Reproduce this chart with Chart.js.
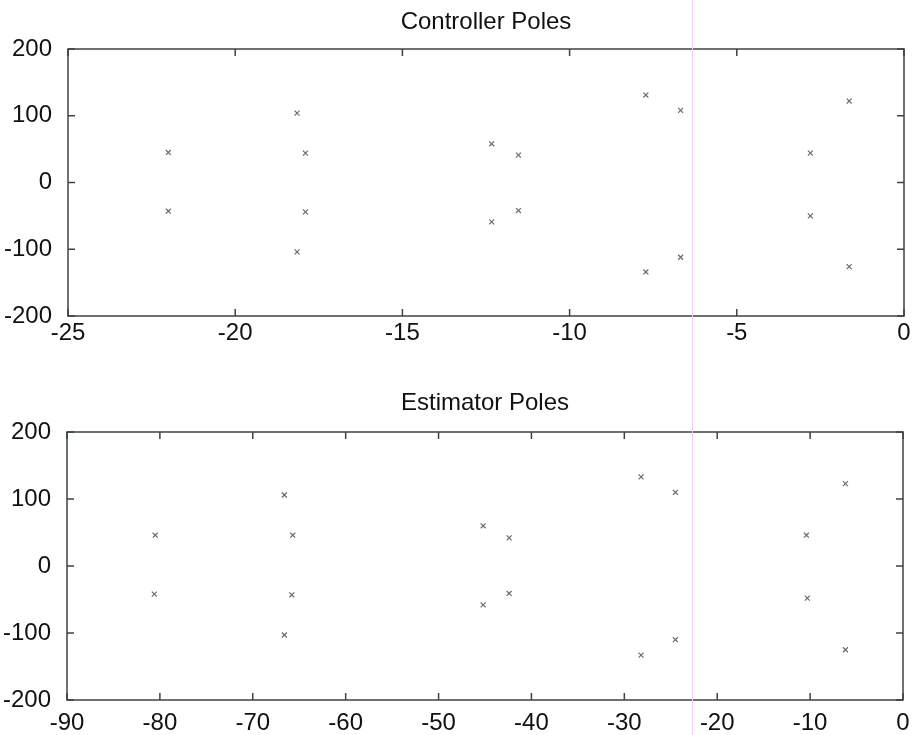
<!DOCTYPE html>
<html lang="en">
<head>
<meta charset="UTF-8">
<title>Controller and Estimator Poles</title>
<script src="https://cdn.jsdelivr.net/npm/chart.js"></script>
<style>
    body { margin: 0; background: #fff; }
    #wrap { position: relative; width: 913px; height: 735px; overflow: hidden; }
    #topBox { position: absolute; left: 0; top: 0; width: 913px; height: 360px; }
    #botBox { position: absolute; left: 0; top: 360px; width: 913px; height: 375px; }
    /* faint scanner line seen in the reference */
    #scanLine { position: absolute; left: 692px; top: 0; width: 1px; height: 735px; background: #f6cdf2; }
</style>
</head>
<body>
<div id="wrap">
    <div id="topBox"><canvas id="ctrl"></canvas></div>
    <div id="botBox"><canvas id="est"></canvas></div>
    <div id="scanLine"></div>
</div>
<script>
    // controller poles (real, imaginary)
    const ctrlRe = [-22.0, -22.0, -18.15, -17.9, -17.9, -18.15, -12.33, -11.53, -11.53, -12.33, -7.72, -6.68, -6.68, -7.72, -1.64, -2.8, -2.8, -1.64];
    const ctrlIm = [45, -43, 104, 44, -44, -104, 58, 41, -42, -59, 131, 108, -112, -134, 122, 44, -50, -126];

    // estimator poles (real, imaginary)
    const estRe = [-80.5, -80.6, -66.6, -65.7, -65.8, -66.6, -45.2, -42.4, -42.4, -45.2, -28.2, -24.5, -24.5, -28.2, -6.2, -10.4, -10.3, -6.2];
    const estIm = [46, -42, 106, 46, -43, -103, 60, 42, -41, -58, 133, 110, -110, -133, 123, 46, -48, -125];

    const ctrlXTicks = [-25, -20, -15, -10, -5, 0];
    const estXTicks = [-90, -80, -70, -60, -50, -40, -30, -20, -10, 0];
    const yTicks = [-200, -100, 0, 100, 200];

    const fontFam = "'Liberation Sans', Arial, sans-serif";
    const frameColor = '#3b4440';

    // box around the axes with inward ticks on all four sides
    const framePlugin = {
        id: 'frame',
        afterDraw(chart) {
            const ctx = chart.ctx;
            const a = chart.chartArea;
            const xs = chart.scales.x, ys = chart.scales.y;
            const len = 7;
            ctx.save();
            ctx.strokeStyle = frameColor;
            ctx.lineWidth = 1.5;
            ctx.strokeRect(a.left, a.top, a.right - a.left, a.bottom - a.top);
            ctx.beginPath();
            chart.options.xTickVals.forEach(v => {
                const px = xs.getPixelForValue(v);
                ctx.moveTo(px, a.bottom); ctx.lineTo(px, a.bottom - len);
                ctx.moveTo(px, a.top); ctx.lineTo(px, a.top + len);
            });
            yTicks.forEach(v => {
                const py = ys.getPixelForValue(v);
                ctx.moveTo(a.left, py); ctx.lineTo(a.left + len, py);
                ctx.moveTo(a.right, py); ctx.lineTo(a.right - len, py);
            });
            ctx.stroke();
            ctx.restore();
        }
    };

    function makeChart(id, title, re, im, xTicks, opt) {
        const pts = re.map((v, i) => ({ x: v, y: im[i] }));
        return new Chart(document.getElementById(id), {
            type: 'scatter',
            data: {
                datasets: [{
                    data: pts,
                    pointStyle: 'crossRot',
                    radius: 3.5,
                    borderWidth: 1.2,
                    borderColor: '#6a6a6a',
                    backgroundColor: '#6a6a6a'
                }]
            },
            plugins: [framePlugin],
            options: {
                xTickVals: xTicks,
                responsive: true,
                maintainAspectRatio: false,
                animation: false,
                layout: { padding: { left: 0, right: opt.padRight, top: 0, bottom: 0 } },
                plugins: {
                    legend: { display: false },
                    tooltip: { enabled: false },
                    title: {
                        display: true,
                        text: title,
                        fullSize: false,
                        color: '#111',
                        font: { family: fontFam, size: 24, weight: 'normal' },
                        padding: { top: opt.titleTop, bottom: opt.titleBottom }
                    }
                },
                scales: {
                    x: {
                        type: 'linear',
                        min: xTicks[0],
                        max: xTicks[xTicks.length - 1],
                        afterBuildTicks: s => { s.ticks = xTicks.map(v => ({ value: v })); },
                        afterFit: s => { s.height = opt.xHeight; },
                        grid: { display: false },
                        border: { display: false },
                        ticks: {
                            color: '#111',
                            padding: opt.xPad,
                            maxRotation: 0,
                            autoSkip: false,
                            font: { family: fontFam, size: 24 }
                        }
                    },
                    y: {
                        type: 'linear',
                        min: -200,
                        max: 200,
                        afterBuildTicks: s => { s.ticks = yTicks.map(v => ({ value: v })); },
                        afterFit: s => { s.width = opt.yWidth; },
                        grid: { display: false },
                        border: { display: false },
                        ticks: {
                            color: '#111',
                            padding: 8,
                            font: { family: fontFam, size: 24 }
                        }
                    }
                }
            }
        });
    }

    makeChart('ctrl', 'Controller Poles', ctrlRe, ctrlIm, ctrlXTicks,
        { padRight: 9, titleTop: 8, titleBottom: 12.2, xHeight: 44, yWidth: 68, xPad: -5 });
    makeChart('est', 'Estimator Poles', estRe, estIm, estXTicks,
        { padRight: 10, titleTop: 29, titleBottom: 14.2, xHeight: 35, yWidth: 67, xPad: 1 });
</script>
</body>
</html>
